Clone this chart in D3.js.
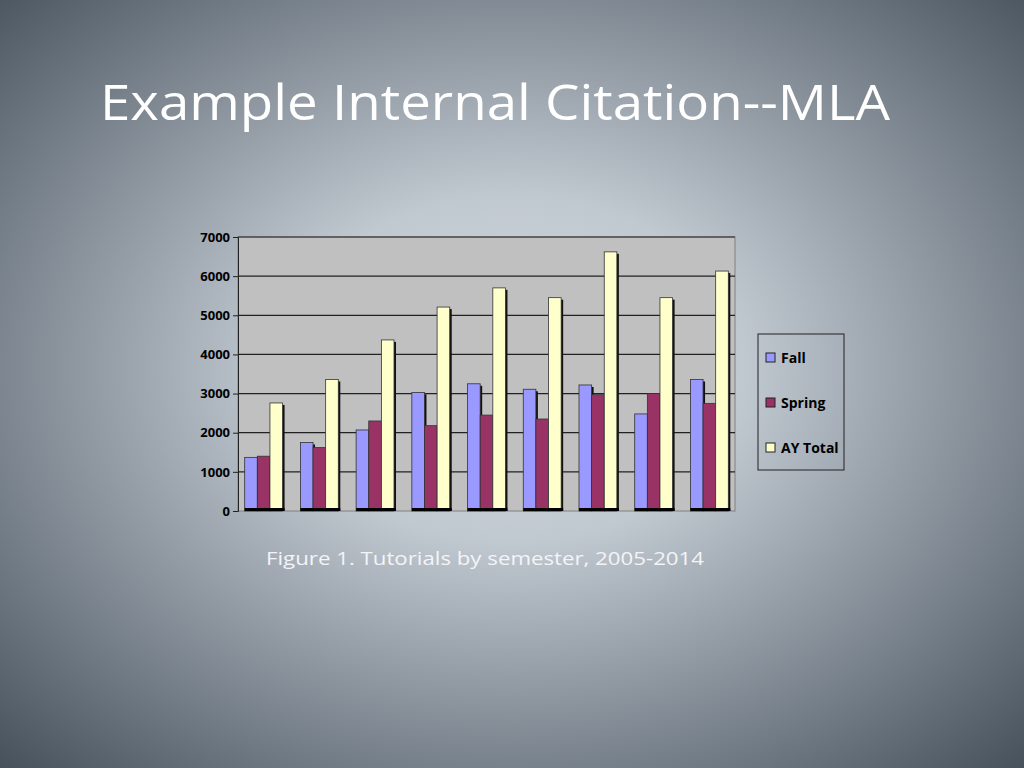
<!DOCTYPE html>
<html><head><meta charset="utf-8">
<script src="https://cdn.jsdelivr.net/npm/d3@7"></script>
<style>body{margin:0;}svg{display:block;}</style></head>
<body><svg id="c" width="1024" height="768"></svg>
<script>
const categories = ["2005-06","2006-07","2007-08","2008-09","2009-10","2010-11","2011-12","2012-13","2013-14"];
const seriesNames = ["Fall","Spring","AY Total"];
const fall =   [1370,1750,2070,3030,3250,3110,3220,2480,3360];
const spring = [1400,1620,2300,2180,2450,2350,2970,3000,2750];
const ayTotal =[2760,3360,4370,5210,5700,5450,6620,5450,6130];
const yTicks = [0,1000,2000,3000,4000,5000,6000,7000];
const colors = ["#9999ff","#993366","#ffffcc"];
const series = [fall, spring, ayTotal];

const svg = d3.select("#c");
const defs = svg.append("defs");
const g = defs.append("radialGradient").attr("id","bg").attr("cx","50%").attr("cy","48%").attr("r","75%");
g.append("stop").attr("offset","0%").attr("stop-color","#d3dae0");
g.append("stop").attr("offset","30%").attr("stop-color","#c0c8d0");
g.append("stop").attr("offset","100%").attr("stop-color","#3f4a55");
svg.append("rect").attr("width",1024).attr("height",768).attr("fill","url(#bg)");

svg.append("text").attr("x",100).attr("y",120).attr("fill","#fff")
  .attr("font-family","Open Sans, sans-serif").attr("font-size",50)
  .attr("textLength",790).attr("lengthAdjust","spacingAndGlyphs").text("Example Internal Citation--MLA");

const L=238,R=735,T=237,B=511;
const x = d3.scaleBand().domain(categories).range([L,R]).paddingInner(0.32).paddingOuter(0.12);
const xs = d3.scaleBand().domain(seriesNames).range([0,x.bandwidth()]);
const y = d3.scaleLinear().domain([0,7000]).range([B,T]);

svg.append("rect").attr("x",L).attr("y",T).attr("width",R-L).attr("height",B-T)
  .attr("fill","#c0c0c0").attr("stroke","#808080");
svg.selectAll(".grid").data(yTicks.slice(1)).enter().append("line")
  .attr("x1",L).attr("x2",R).attr("y1",d=>y(d)).attr("y2",d=>y(d)).attr("stroke","#222").attr("stroke-width",1.2);

const ax = svg.append("g").attr("transform",`translate(${L},0)`)
  .call(d3.axisLeft(y).tickValues(yTicks).tickSize(5).tickFormat(d3.format("d")));
ax.select(".domain").attr("stroke","#222");
ax.selectAll("line").attr("stroke","#222");
ax.selectAll("text").attr("font-family","Open Sans, sans-serif").attr("font-size",13).attr("font-weight","bold").attr("fill","#000");

categories.forEach((c,i)=>{
  series.forEach((s,k)=>{
    const bx = x(c)+xs(seriesNames[k]), bw = xs.bandwidth();
    svg.append("rect").attr("x",bx+2).attr("y",y(s[i])+2).attr("width",bw).attr("height",B-y(s[i])-2).attr("fill","#111");
    svg.append("rect").attr("x",bx).attr("y",y(s[i])).attr("width",bw).attr("height",B-y(s[i]))
      .attr("fill",colors[k]).attr("stroke","#333").attr("stroke-width",0.8);
  });
  svg.append("rect").attr("x",x(c)).attr("y",B-3).attr("width",x.bandwidth()+2).attr("height",3).attr("fill","#000");
});

const lg = svg.append("g");
lg.append("rect").attr("x",758).attr("y",334).attr("width",86).attr("height",136).attr("fill","none").attr("stroke","#222");
seriesNames.forEach((n,k)=>{
  const yy = 358 + k*45;
  lg.append("rect").attr("x",766).attr("y",yy-5).attr("width",9).attr("height",9).attr("fill",colors[k]).attr("stroke","#222");
  lg.append("text").attr("x",781).attr("y",yy+5).attr("font-family","Open Sans, sans-serif").attr("font-size",14)
    .attr("font-weight","bold").attr("fill","#000").text(n);
});

svg.append("text").attr("x",266).attr("y",565).attr("fill","#f4f4f8")
  .attr("font-family","Open Sans, sans-serif").attr("font-size",19)
  .attr("textLength",438).attr("lengthAdjust","spacingAndGlyphs").text("Figure 1. Tutorials by semester, 2005-2014");
</script></body></html>
